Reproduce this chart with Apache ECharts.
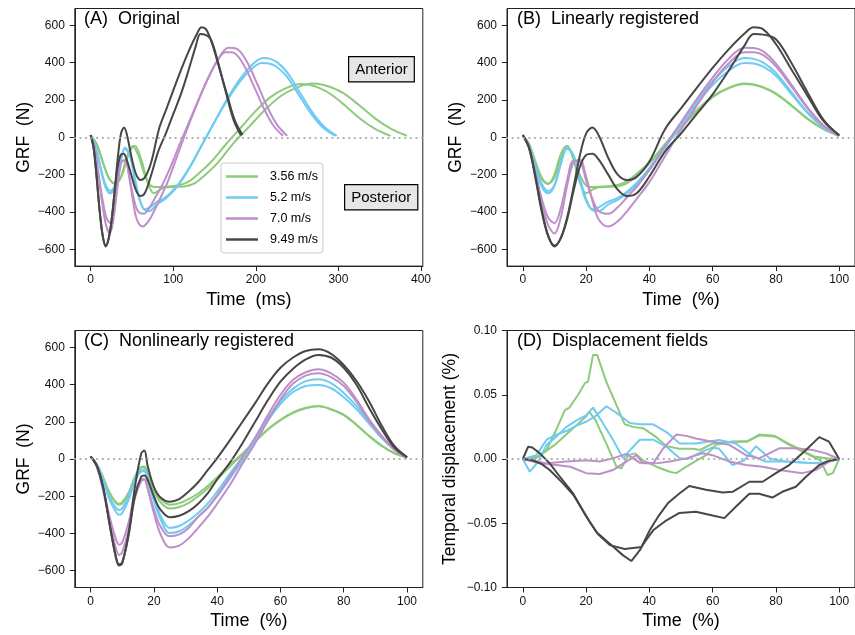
<!DOCTYPE html>
<html><head><meta charset="utf-8">
<script src="https://cdn.jsdelivr.net/npm/echarts@6/dist/echarts.min.js"></script>
<style>html,body{margin:0;padding:0;background:#fff}#c{width:855px;height:635px}</style>
</head><body><div id="c"></div>
<script>
// ---------- data ----------
const speeds = ['3.56 m/s', '5.2 m/s', '7.0 m/s', '9.49 m/s'];
const colors = ['#8DCB7B', '#6FCBF2', '#BE8FC8', '#474747'];
// contact durations (ms) of the two trials per speed
const durations = [[383, 363], [298, 296], [238, 233], [184, 182]];

// Panel B: linearly registered GRF (N) on time grid (%)
const timeLin = [0,2,4,6,8,10,12,14,16,18,20,22,24,27,30,33,36,40,45,50,55,60,65,70,73,76,80,85,90,95,100];
const linG1 = [10,-40,-140,-225,-250,-200,-90,-45,-120,-240,-300,-280,-268,-265,-262,-245,-205,-140,-35,55,145,220,265,288,283,268,235,170,100,45,8];
const linG2 = [10,-35,-130,-215,-248,-215,-110,-48,-100,-200,-258,-266,-265,-262,-255,-235,-195,-135,-40,50,140,215,262,285,281,266,232,168,98,44,8];
const linB1 = [10,-50,-165,-265,-300,-260,-140,-55,-100,-230,-340,-385,-375,-345,-325,-290,-245,-165,-45,75,195,300,380,425,420,400,345,240,135,55,8];
const linB2 = [10,-45,-155,-250,-288,-255,-145,-62,-95,-215,-330,-390,-395,-360,-335,-300,-255,-175,-55,65,180,280,355,398,395,378,330,230,130,52,8];
const linP1 = [10,-55,-190,-330,-430,-460,-380,-230,-125,-130,-230,-330,-395,-410,-375,-320,-265,-175,-45,80,205,320,420,480,478,460,395,280,160,65,8];
const linP2 = [10,-60,-200,-350,-470,-515,-430,-260,-135,-120,-210,-340,-440,-478,-450,-395,-330,-240,-100,40,170,295,395,455,455,440,380,270,155,62,8];
const linD1 = [12,-60,-220,-400,-530,-585,-540,-430,-270,-100,20,52,10,-110,-200,-229,-212,-130,45,155,265,372,470,555,589,578,500,361,222,88,12];
const linD2 = [12,-55,-210,-390,-525,-580,-540,-440,-290,-160,-95,-88,-120,-200,-280,-315,-300,-210,-75,20,125,230,355,490,553,550,525,395,240,95,10];

// Panel C: nonlinearly registered GRF (N)
const timeNonlin = [0,2,4,6,8,9,10,12,14,16,17,18,20,22,25,28,31,34,37,40,44,48,52,56,60,64,68,72,76,80,84,88,92,96,100];
const nlG1 = [12,-30,-105,-185,-232,-240,-232,-180,-95,-42,-40,-75,-160,-212,-245,-238,-215,-185,-145,-98,-32,30,95,160,210,250,275,285,268,238,185,125,72,32,8];
const nlG2 = [12,-28,-100,-180,-236,-246,-238,-188,-100,-45,-44,-80,-170,-230,-266,-258,-235,-200,-158,-108,-40,25,92,157,208,248,273,283,266,236,183,123,70,31,8];
const nlB1 = [12,-32,-115,-205,-262,-274,-265,-200,-110,-58,-56,-100,-210,-300,-370,-360,-330,-290,-240,-175,-80,10,110,220,310,378,418,428,408,355,285,200,120,52,8];
const nlB2 = [12,-34,-122,-220,-285,-300,-290,-220,-122,-68,-66,-110,-225,-320,-398,-388,-356,-312,-262,-200,-105,-10,95,205,295,360,392,398,380,332,268,190,112,50,8];
const nlP1 = [12,-40,-160,-310,-430,-460,-448,-340,-190,-110,-108,-150,-270,-360,-415,-405,-370,-310,-262,-195,-95,10,115,235,345,425,466,482,460,410,320,215,125,52,8];
const nlP2 = [12,-45,-175,-340,-480,-515,-500,-380,-210,-118,-112,-160,-290,-400,-475,-465,-425,-370,-310,-240,-140,-25,85,205,320,405,448,460,440,392,308,205,120,50,8];
const nlD1 = [14,-38,-155,-350,-530,-572,-560,-400,-150,30,45,-35,-150,-205,-229,-215,-175,-125,-60,5,100,200,300,405,490,545,580,589,565,505,420,310,180,70,10];
const nlD2 = [14,-38,-155,-350,-525,-565,-555,-410,-200,-95,-88,-110,-200,-270,-313,-305,-280,-240,-185,-110,-20,85,200,315,415,485,535,559,545,490,400,275,160,62,10];

// Panel D: displacement fields [time %, displacement]
const dispG1 = [[0,0],[4,0.0005],[7.5,0.007],[10.6,0.023],[13.3,0.038],[14.7,0.040],[17.5,0.050],[19.6,0.059],[20.6,0.060],[22.2,0.081],[23.5,0.081],[26.4,0.060],[29.6,0.042],[32.2,0.027],[34.8,0.025],[38,0.024],[42.2,0.017],[45.4,0.010],[49.5,0.008],[54,0.008],[56,0.007],[60,0.012],[66,0.0135],[71,0.0135],[74.7,0.019],[79.5,0.018],[84.2,0.011],[89.5,0.0044],[94,-0.001],[96.3,-0.0125],[98,-0.011],[100,0]];
const dispG2 = [[0,0],[5,0.002],[10.6,0.012],[15.9,0.024],[20,0.033],[21,0.037],[23,0.030],[26.4,0.012],[29.6,-0.006],[31.2,-0.0073],[33.3,0.003],[35.4,0.0044],[38,-0.001],[42.2,-0.006],[46.4,-0.0099],[48.5,-0.011],[51.7,-0.006],[55,-0.001],[58,0.003],[61,0.011],[66,0.0135],[71,0.014],[75,0.0185],[80,0.0174],[84,0.012],[88,0.007],[92,0.002],[96,0.0005],[100,0]];
const dispB1 = [[0,0],[2.2,-0.0099],[4.9,-0.002],[7.5,0.011],[10.6,0.0174],[13.8,0.025],[17,0.030],[20,0.034],[22.2,0.040],[24.8,0.030],[28.5,0.015],[31.7,0.0005],[34.3,0.008],[37,0.015],[41.2,0.015],[45.4,0.0096],[49.6,0.0005],[52,0],[56,0.005],[60,0.009],[62,0.008],[66.3,-0.0047],[70,-0.001],[73.7,0.010],[78,0.0005],[83,-0.002],[90,-0.003],[94,-0.0034],[100,0]];
const dispB2 = [[0,0],[4.3,0.003],[7.5,0.015],[10.6,0.019],[14,0.022],[17,0.026],[20,0.029],[23.3,0.034],[26.4,0.041],[29.6,0.036],[33.8,0.028],[37,0.027],[41.2,0.027],[45.4,0.021],[49.6,0.012],[54.7,0.012],[62,0.0148],[67.4,0.012],[72.6,0.0023],[76.8,-0.002],[83.2,-0.002],[89.5,-0.003],[93.7,-0.0034],[100,0]];
const dispP1 = [[0,0],[3,-0.001],[7.5,-0.0034],[13.8,-0.002],[20,-0.001],[24.3,-0.002],[28.5,0.0005],[32.7,0.004],[37,-0.003],[41.2,-0.0034],[44.3,0.008],[48.5,0.019],[51.7,0.018],[54.7,0.016],[60,0.0135],[65.3,0.011],[70.5,0.003],[74.7,0.0005],[81,0.0083],[86.3,0.0083],[91.6,0.007],[95.8,0.0044],[100,0]];
const dispP2 = [[0,0],[5.4,-0.0034],[10.6,-0.0047],[15,-0.006],[20,-0.011],[24.3,-0.0117],[28.5,-0.0086],[32.7,-0.002],[35.9,0.003],[38,-0.0034],[42.2,-0.0034],[46.4,-0.002],[51.7,0.0005],[56.8,0.0044],[60,0.003],[65.3,-0.002],[70.5,-0.0047],[75.8,-0.006],[81,-0.0086],[88.4,-0.011],[92.6,-0.0086],[96.8,-0.002],[100,0]];
const dispD1 = [[0,0],[1.7,0.0096],[3,0.009],[5.4,0.0044],[8.5,-0.0034],[11.7,-0.0138],[15.9,-0.0268],[20.1,-0.045],[23.3,-0.057],[27.5,-0.066],[31.7,-0.075],[34.3,-0.0794],[37,-0.071],[40.1,-0.0555],[43,-0.044],[46,-0.034],[49.5,-0.0268],[52.6,-0.021],[57.9,-0.024],[63.2,-0.026],[66.3,-0.0255],[71.6,-0.0177],[75.8,-0.0177],[80,-0.011],[84.2,-0.0047],[89.5,0.007],[93.7,0.017],[96.8,0.0135],[100,0]];
const dispD2 = [[0,0],[3,-0.001],[6,-0.004],[8.5,-0.0086],[12.7,-0.019],[16,-0.028],[21.2,-0.049],[23.8,-0.0586],[27.5,-0.067],[32.2,-0.070],[37.5,-0.0685],[39,-0.063],[41.2,-0.0555],[45.4,-0.0477],[49.5,-0.042],[54.7,-0.041],[60,-0.044],[63.7,-0.046],[67.4,-0.037],[71.6,-0.027],[74.7,-0.027],[78.9,-0.030],[82,-0.0255],[86.3,-0.0216],[89.5,-0.0138],[93.7,-0.0047],[96.8,-0.0013],[100,0]];

const grfTicks = [-600,-400,-200,0,200,400,600];
const msTicks = [0,100,200,300,400];
const pctTicks = [0,20,40,60,80,100];
const dispTicks = [-0.10,-0.05,0.00,0.05,0.10];

// ---------- build ----------
const FONT = "'Liberation Sans', Arial, Helvetica, sans-serif";
const linCurves = [[linG1, linG2], [linB1, linB2], [linP1, linP2], [linD1, linD2]];
const nlCurves = [[nlG1, nlG2], [nlB1, nlB2], [nlP1, nlP2], [nlD1, nlD2]];
const dispCurves = [[dispG1, dispG2], [dispB1, dispB2], [dispP1, dispP2], [dispD1, dispD2]];

const minus = s => String(s).replace('-', '\u2212');

const grids = [
  {left: 74.8, top: 8.5, width: 348, height: 257.6},
  {left: 507, top: 8.5, width: 348, height: 257.6},
  {left: 74.8, top: 330.5, width: 348, height: 257},
  {left: 507, top: 330.5, width: 348, height: 257}
].map(g => Object.assign({show: true, borderColor: '#222', borderWidth: 1, backgroundColor: 'transparent'}, g));

function xAx(i, min, max, ticks, name) {
  return {type: 'value', gridIndex: i, min, max, name, nameLocation: 'middle', nameGap: 25,
    nameTextStyle: {fontSize: 18, fontFamily: FONT, color: '#000'},
    axisLine: {show: true, onZero: false, lineStyle: {color: '#222', width: 1}},
    axisTick: {show: true, inside: false, length: 5, customValues: ticks, lineStyle: {color: '#222'}},
    axisLabel: {customValues: ticks, margin: 8, fontSize: 12, fontFamily: FONT, color: '#111', formatter: v => minus(v)},
    splitLine: {show: false}};
}
function yAx(i, min, max, ticks, name, gap, fmt, nameSize) {
  return {type: 'value', gridIndex: i, min, max, name, nameLocation: 'middle', nameGap: gap,
    nameTextStyle: {fontSize: nameSize, fontFamily: FONT, color: '#000'},
    axisLine: {show: true, onZero: false, lineStyle: {color: '#222', width: 1}},
    axisTick: {show: true, inside: false, length: 5, customValues: ticks, lineStyle: {color: '#222'}},
    axisLabel: {customValues: ticks, margin: 10, fontSize: 12, fontFamily: FONT, color: '#111', formatter: fmt},
    splitLine: {show: false}};
}
const grfFmt = v => minus(Math.round(v));
const dispFmt = v => minus(v.toFixed(2));

const xAxis = [
  xAx(0, -19.15, 402.15, msTicks, 'Time  (ms)'),
  xAx(1, -5, 105, pctTicks, 'Time  (%)'),
  xAx(2, -5, 105, pctTicks, 'Time  (%)'),
  xAx(3, -5, 105, pctTicks, 'Time  (%)')
];
const yAxis = [
  yAx(0, -690, 690, grfTicks, 'GRF  (N)', 42, grfFmt, 17.5),
  yAx(1, -690, 690, grfTicks, 'GRF  (N)', 42, grfFmt, 17.5),
  yAx(2, -690, 690, grfTicks, 'GRF  (N)', 42, grfFmt, 17.5),
  yAx(3, -0.1, 0.1, dispTicks, 'Temporal displacement (%)', 48, dispFmt, 17.5)
];

const zeroLine = {silent: true, symbol: 'none', label: {show: false},
  lineStyle: {color: '#aaaaaa', type: [0.1, 5.5], width: 2.2, cap: 'round'}, data: [{yAxis: 0}]};

const series = [];
function addLine(panel, k, data, smooth, first) {
  const s = {type: 'line', name: speeds[k], xAxisIndex: panel, yAxisIndex: panel, data,
    showSymbol: false, symbol: 'none', smooth, animation: false,
    lineStyle: {color: colors[k], width: 2}, itemStyle: {color: colors[k]}, emphasis: {disabled: true}};
  if (first) s.markLine = zeroLine;
  series.push(s);
}
for (let k = 0; k < 4; k++) {
  for (let t = 0; t < 2; t++) {
    const ys = linCurves[k][t];
    const dur = durations[k][t];
    addLine(0, k, timeLin.map((x, i) => [x * dur / 100, ys[i]]), 0.35, k === 0 && t === 0);
  }
}
for (let k = 0; k < 4; k++) for (let t = 0; t < 2; t++)
  addLine(1, k, timeLin.map((x, i) => [x, linCurves[k][t][i]]), 0.35, k === 0 && t === 0);
for (let k = 0; k < 4; k++) for (let t = 0; t < 2; t++)
  addLine(2, k, timeNonlin.map((x, i) => [x, nlCurves[k][t][i]]), 0.35, k === 0 && t === 0);
for (let k = 0; k < 4; k++) for (let t = 0; t < 2; t++)
  addLine(3, k, dispCurves[k][t], false, k === 0 && t === 0);

const titleStyle = {fontSize: 18, fontWeight: 'normal', fontFamily: FONT, color: '#000'};
const title = [
  {text: '(A)  Original', left: 84, top: 10},
  {text: '(B)  Linearly registered', left: 517, top: 10},
  {text: '(C)  Nonlinearly registered', left: 84, top: 332},
  {text: '(D)  Displacement fields', left: 517, top: 332}
].map(t => Object.assign({padding: 0, textStyle: titleStyle}, t));

const chart = echarts.init(document.getElementById('c'), null, {renderer: 'canvas'});
chart.setOption({
  animation: false,
  backgroundColor: '#fff',
  title,
  grid: grids,
  xAxis, yAxis, series,
  legend: {data: speeds, selectedMode: false, orient: 'vertical', left: 221, top: 163,
    backgroundColor: '#fff', borderColor: '#cccccc', borderWidth: 1, borderRadius: 3,
    padding: [7, 5, 7, 5], itemWidth: 32, itemHeight: 2.5, itemGap: 8, icon: 'rect',
    textStyle: {fontSize: 12.5, fontFamily: FONT, color: '#000', padding: [0, 0, 0, 7]}},
  graphic: [
    {type: 'text', left: 348, top: 56, z: 100, style: {text: 'Anterior', font: '15px ' + FONT, fill: '#000',
      backgroundColor: '#e6e6e6', borderColor: '#000', borderWidth: 1.2, padding: [5, 6, 4, 6]}},
    {type: 'text', left: 344, top: 184, z: 100, style: {text: 'Posterior', font: '15px ' + FONT, fill: '#000',
      backgroundColor: '#e6e6e6', borderColor: '#000', borderWidth: 1.2, padding: [5, 6, 4, 6]}}
  ]
});
</script>
</body></html>
